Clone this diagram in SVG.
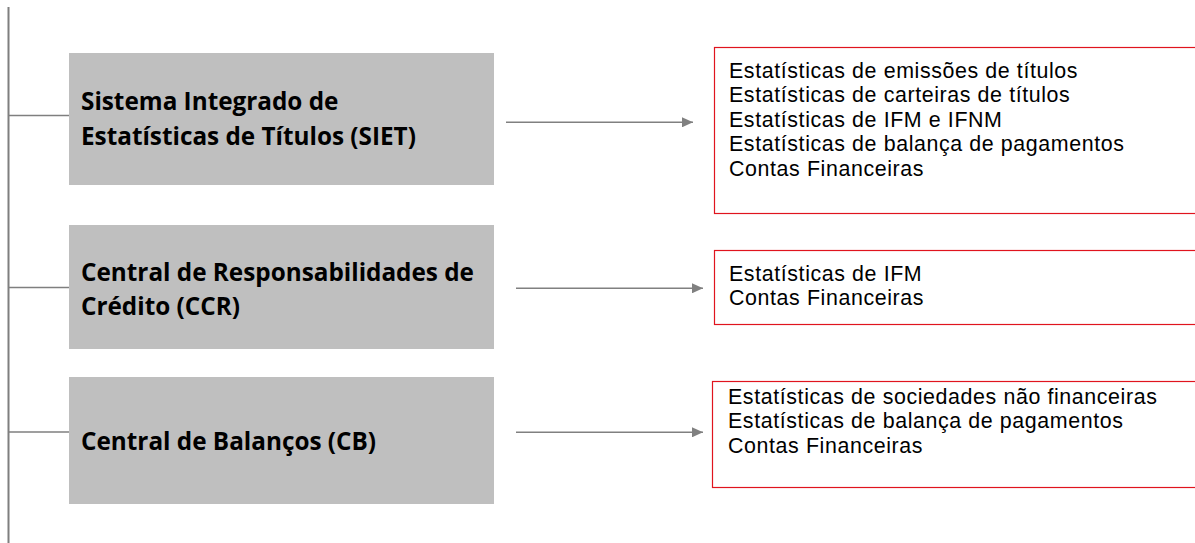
<svg xmlns="http://www.w3.org/2000/svg" width="1195" height="543" viewBox="0 0 1195 543">
<style>
.src{fill:#bfbfbf}
.out{fill:#ffffff;stroke:#e0141e;stroke-width:1.2}
.bt{font-family:"Open Sans","Liberation Sans",sans-serif;font-weight:bold;font-size:24.3px;fill:#000}
.rt{font-family:"Liberation Sans",Arial,sans-serif;font-size:21.4px;letter-spacing:0.6px;fill:#000}
.tree{stroke:#7f7f7f;stroke-width:2;fill:none}
.br{stroke:#7f7f7f;stroke-width:1.5;fill:none}
.arr{stroke:#808080;stroke-width:1.6;fill:none;marker-end:url(#ah)}
</style>
<defs>
<marker id="ah" markerWidth="12" markerHeight="10" refX="11" refY="5" orient="auto" markerUnits="userSpaceOnUse">
<path d="M0,0 L11,5 L0,10 Z" fill="#808080"/>
</marker>
</defs>
<g id="connectors">
<line class="tree" x1="8.5" y1="7" x2="8.5" y2="543"/>
<line class="br" x1="9" y1="115.5" x2="69" y2="115.5"/>
<line class="br" x1="9" y1="287.5" x2="69" y2="287.5"/>
<line class="br" x1="9" y1="432" x2="69" y2="432"/>
<line class="arr" x1="506" y1="122.3" x2="693" y2="122.3"/>
<line class="arr" x1="516" y1="288.3" x2="703" y2="288.3"/>
<line class="arr" x1="516" y1="432.3" x2="703" y2="432.3"/>
</g>
<g id="siet">
<rect class="src" x="69" y="53" width="425" height="132"/>
<text class="bt" x="81" y="110">Sistema Integrado de</text>
<text class="bt" x="81" y="145">Estatísticas de Títulos (SIET)</text>
</g>
<g id="ccr">
<rect class="src" x="69" y="225" width="425" height="124"/>
<text class="bt" x="81" y="281">Central de Responsabilidades de</text>
<text class="bt" x="81" y="315">Crédito (CCR)</text>
</g>
<g id="cb">
<rect class="src" x="69" y="377" width="425" height="127"/>
<text class="bt" x="81" y="450">Central de Balanços (CB)</text>
</g>
<g id="out-siet">
<rect class="out" x="714.5" y="47.5" width="500" height="166"/>
<text class="rt" x="729" y="78">Estatísticas de emissões de títulos</text>
<text class="rt" x="729" y="102.4">Estatísticas de carteiras de títulos</text>
<text class="rt" x="729" y="126.8">Estatísticas de IFM e IFNM</text>
<text class="rt" x="729" y="151.2">Estatísticas de balança de pagamentos</text>
<text class="rt" x="729" y="175.6">Contas Financeiras</text>
</g>
<g id="out-ccr">
<rect class="out" x="714.5" y="250.5" width="500" height="74"/>
<text class="rt" x="729" y="281">Estatísticas de IFM</text>
<text class="rt" x="729" y="305">Contas Financeiras</text>
</g>
<g id="out-cb">
<rect class="out" x="712.5" y="381.5" width="500" height="106"/>
<text class="rt" x="728" y="404">Estatísticas de sociedades não financeiras</text>
<text class="rt" x="728" y="428.4">Estatísticas de balança de pagamentos</text>
<text class="rt" x="728" y="452.8">Contas Financeiras</text>
</g>
</svg>
